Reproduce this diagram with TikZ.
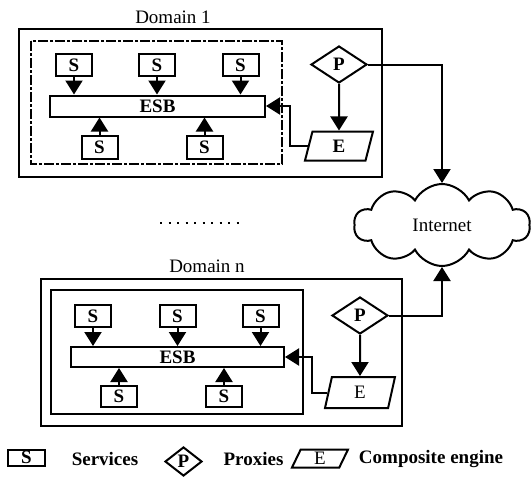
\documentclass[tikz,border=0pt]{standalone}
\usepackage{fontspec}
\setmainfont{Liberation Serif}
\usetikzlibrary{shapes.geometric,shapes.symbols,arrows.meta}

\begin{document}
\begin{tikzpicture}[x=1pt,y=-1pt,
  txt/.style={font=\fontsize{19}{21}\selectfont, inner sep=0pt},
  boldtxt/.style={font=\fontsize{19}{21}\selectfont\bfseries, inner sep=0pt},
  svc/.style={draw, line width=2pt, inner sep=0pt, minimum width=36pt, minimum height=22pt,
              font=\fontsize{19}{21}\selectfont\bfseries},
  bus/.style={draw, line width=2pt, inner sep=0pt, minimum height=21pt,
              font=\fontsize{19}{21}\selectfont\bfseries},
  proxy/.style={diamond, draw, line width=2pt, inner sep=0pt, minimum width=56pt, minimum height=37pt,
                font=\fontsize{19}{21}\selectfont\bfseries},
  engine/.style={trapezium, trapezium stretches body, draw, line width=2pt, inner sep=0pt,
                 font=\fontsize{19}{21}\selectfont},
  frame/.style={draw, line width=2.6pt},
  arr/.style={line width=2pt, -{Triangle[width=17pt,length=14pt]}}
]
\useasboundingbox (0,0) rectangle (531,477);

% ---------------- Domain 1 ----------------
\node[txt] (t1) at (173,17) {Domain 1};
\draw[frame] (19,29) rectangle (382,177);
\draw[line width=2pt, dash pattern=on 10pt off 2pt on 3pt off 2pt] (31,41) rectangle (282,164);

\node[svc] (a1) at (74,65) {S};
\node[svc] (a2) at (157,65) {S};
\node[svc] (a3) at (240.5,65) {S};
\node[bus, minimum width=215pt] (esb1) at (157.5,106) {ESB};
\node[svc, minimum height=23pt] (a4) at (99.5,147.5) {S};
\node[svc, minimum height=23pt] (a5) at (204.5,147.5) {S};

\draw[arr] (a1.south) -- (a1.south |- esb1.north);
\draw[arr] (a2.south) -- (a2.south |- esb1.north);
\draw[arr] (a3.south) -- (a3.south |- esb1.north);
\draw[arr] (a4.north) -- (a4.north |- esb1.south);
\draw[arr] (a5.north) -- (a5.north |- esb1.south);

\node[proxy] (p1) at (339,64.5) {P};
\node[engine, trapezium left angle=59, trapezium right angle=121, minimum width=68pt, minimum height=29pt,
      font=\fontsize{19}{21}\selectfont\bfseries] (e1) at (339,146) {E};
\draw[arr] (p1.south) -- (e1.north);
\coordinate (k1) at (290,106);
\draw[arr] (e1.west) -| (k1) -- (esb1.east);

% ---------------- Internet ----------------
\node[cloud, draw, line width=2pt, cloud puffs=10, cloud puff arc=125, cloud ignores aspect,
      minimum width=176pt, minimum height=82pt, txt] (net) at (442,225) {Internet};
\draw[arr] (p1.east) -| (net.north);

% separator dots
\draw[line width=2pt, dash pattern=on 2pt off 6.5pt] (160,223) -- (240,223);

% ---------------- Domain n ----------------
\node[txt] (t2) at (207,266) {Domain n};
\draw[frame] (41,279) rectangle (402,426);
\draw[line width=1.8pt] (51,290) rectangle (303,414);

\node[svc] (b1) at (93,316) {S};
\node[svc] (b2) at (177.5,316) {S};
\node[svc] (b3) at (260.5,316) {S};
\node[bus, minimum width=213pt, minimum height=20pt] (esb2) at (177.5,357) {ESB};
\node[svc, minimum height=21pt] (b4) at (119,396.5) {S};
\node[svc, minimum height=21pt] (b5) at (224,396.5) {S};

\draw[arr] (b1.south) -- (b1.south |- esb2.north);
\draw[arr] (b2.south) -- (b2.south |- esb2.north);
\draw[arr] (b3.south) -- (b3.south |- esb2.north);
\draw[arr] (b4.north) -- (b4.north |- esb2.south);
\draw[arr] (b5.north) -- (b5.north |- esb2.south);

\node[proxy] (p2) at (360,315.5) {P};
\node[engine, trapezium left angle=61, trapezium right angle=119, minimum width=70pt, minimum height=31pt]
      (e2) at (360,392.5) {E};
\draw[arr] (p2.south) -- (e2.north);
\coordinate (k2) at (312,357);
\draw[arr] (e2.west) -| (k2) -- (esb2.east);
\draw[arr] (p2.east) -| (net.south);

% ---------------- Legend ----------------
\node[svc, minimum width=37pt, minimum height=16pt] (ls) at (26.5,457.5) {S};
\node[boldtxt] (lst) at (105,459) {Services};
\node[proxy, minimum width=37pt, minimum height=29pt] (lp) at (183.5,461.5) {P};
\node[boldtxt] (lpt) at (253.5,459) {Proxies};
\node[engine, trapezium left angle=55, trapezium right angle=125, minimum width=56pt, minimum height=18pt]
      (le) at (320,458.5) {E};
\node[boldtxt] (let) at (431,459) {Composite engine};
\end{tikzpicture}
\end{document}
